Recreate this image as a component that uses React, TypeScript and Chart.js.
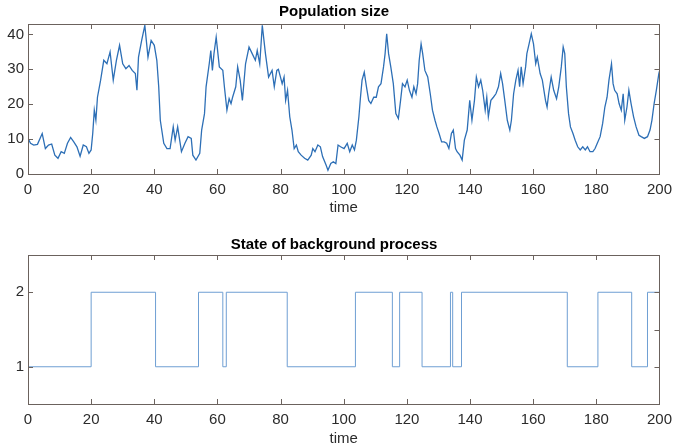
import { useEffect, useRef } from "react";
import { Chart, registerables } from "chart.js";
Chart.register(...registerables);

// ---- Data ----
const popTime = [
  0, 0.8, 1.8, 3, 4.5, 5.5, 6.5, 7.5, 8.5, 9.5, 10.5, 11.5, 12.5, 13.5, 14.5, 15.5, 16.5, 17.5, 18.5, 19.3,
  20, 20.5, 21, 21.5, 22, 23, 24, 25, 26, 27, 28, 29, 30, 31, 32, 33, 34, 34.5, 35, 36, 37, 38, 39, 40,
  40.8, 41.4, 41.9, 43, 44, 45, 46, 46.6, 47.4, 48.6, 49.7, 50.7, 51.7, 52.2, 53.2, 54.4, 55, 55.9, 56.4,
  57.4, 57.9, 58.4, 58.9, 59.6, 60.6, 61.7, 62.2, 63, 63.7, 64.3, 64.8, 65.8, 66.4, 67.2, 67.9, 68.9, 70,
  71, 72, 72.6, 73.4, 74.2, 75.2, 76.2, 77.3, 78, 78.8, 79.3, 79.9,
  80.5, 81.1, 81.6, 82.2, 82.9, 83.6, 84.3, 85, 85.6, 86.5, 87.6, 88.6, 89.7, 90.2, 90.9, 91.8, 92.6, 93.3,
  94.4, 95, 95.9, 96.7, 97.5, 98.2, 99, 100.1, 101.1, 101.9, 102.7, 103.4, 104, 104.8, 105.3, 105.8, 106.5,
  107.2, 107.9, 108.6, 109.5, 110.3, 111, 111.8, 112.6, 113.1, 113.6, 114.2, 114.9, 115.7, 116.5, 117.3,
  118, 118.6, 119.4, 120.1,
  120.8, 121.6, 122.2, 122.9, 123.4, 123.9, 124.5, 125, 125.7, 126.6, 127.4, 128.1, 128.9, 129.5, 130.2,
  131, 131.8, 132.6, 133.3, 134.1, 134.7, 135.4, 135.9, 136.8, 137.5, 138.2, 139.1, 139.9, 140.6, 141.4,
  142, 142.7, 143.4, 144, 144.8, 145.3, 145.8, 146.6, 147.4, 148.2, 149, 149.7, 150.3, 151, 151.8, 152.6,
  153.1, 153.8, 154.5, 155.2, 155.7, 156.2, 156.8, 157.6, 158, 158.7, 159.4, 160.1,
  160.8, 161.3, 162.2, 162.9, 163.4, 163.9, 164.4, 164.9, 165.7, 166.5, 167.4, 168.1, 168.9, 169.5, 170,
  170.5, 171.2, 171.8, 172.6, 173.3, 174.1, 174.9, 175.7, 176.5, 177.2, 178, 178.9, 179.6, 180.3, 181.2,
  182, 182.7, 183.4, 184, 184.8, 185.3, 185.8, 186.6, 187.2, 187.9, 188.5, 189, 189.7, 190.3, 191, 191.8,
  192.6, 193.5, 194.2, 195.2, 196.2, 197, 197.6, 198.3, 199, 199.8, 200,
];
const popSize = [
  10.2, 8.8, 8.3, 8.5, 11.6, 7.3, 8.3, 8.6, 5.4, 4.5, 6.4, 5.9, 8.8, 10.5, 9.2, 7.8, 5.1, 8.3, 7.8, 5.9,
  6.9, 11.6, 18.3, 15.4, 22, 26.9, 32.6, 31.6, 35, 26.9, 32.6, 36.9, 31.6, 30.2, 31.1, 29.7, 28.8, 24, 33.5, 38.3, 42.6, 33.5, 38.3, 36.9,
  32.6, 25, 15.4, 8.8, 7.3, 7.3, 13.5, 9.7, 13.5, 6.4, 8.8, 10.7, 10.2, 5.4, 4, 5.9, 12.6, 17.3, 25,
  31.6, 35.4, 29.7, 34.5, 39.2, 30.7, 29.7, 25, 18.3, 21.6, 20.2, 22, 25, 30.7, 26.9, 21.1, 31.6, 36.4,
  34.5, 32.6, 35.4, 31.6, 42.6, 34.5, 27.8, 29.7, 25, 29.7, 30, 28,
  25.9, 27.8, 21.1, 24, 16.4, 12.6, 7.3, 8.3, 6.4, 5.4, 4.5, 4, 5.4, 7.3, 6.4, 8.3, 7.8, 5,
  2.6, 1.1, 3, 3.5, 3, 8.3, 7.8, 7.3, 8.8, 6.4, 8.3, 6.9, 9.7, 16.4, 22, 26.9, 29.2,
  25, 21.1, 20.2, 22, 22, 25, 25.9, 30.7, 34.5, 40.2, 34.5, 30.7, 25.9, 17.3, 15.9,
  21.1, 25.9, 25, 26.9,
  24, 22, 25, 23, 25.9, 32.6, 37.3, 34.5, 29.7, 27.8, 23, 18.3, 15.4, 13.5, 11.6,
  9.2, 9.2, 8.8, 7.3, 11.6, 12.6, 7.3, 6.4, 5.4, 4, 9.7, 12.6, 21.1, 15.4, 21.1,
  27.8, 25, 26.9, 24, 18.3, 22, 16.4, 21.1, 22, 23, 25, 28.8, 25.9, 21.1, 15.4, 12.6,
  15.4, 23, 26.9, 29.7, 25, 30.7, 25.9, 30.7, 34.5, 37.3, 40.2, 37.3,
  31.6, 33.5, 28.8, 26.9, 24, 21.1, 19.2, 23, 27.8, 24, 21.6, 25, 30.7, 36.4, 34.5,
  25, 17.3, 13.5, 11.6, 9.7, 7.8, 6.9, 7.8, 6.9, 7.8, 6.4, 6.4, 7.3, 8.8, 10.7,
  14.5, 19.2, 22, 26.9, 31.6, 25.9, 24, 23, 20.2, 18.3, 23, 15.4, 19.2, 24, 20.2, 16.4,
  13.5, 11.1, 10.7, 10.2, 10.7, 12.6, 15.4, 20.2, 24, 28.8, 29.5,
];

const stateTime = [0, 20, 40.4, 54, 61.7, 62.8, 82.1, 103.7, 115.4, 117.7, 124.8, 133.8, 134.5, 137.3, 170.8, 180.5, 191.2, 196.2, 200];
const stateValue = [1, 2, 1, 2, 1, 2, 1, 2, 1, 2, 1, 2, 1, 2, 1, 2, 1, 2, 2];

const xTickValues = [0, 20, 40, 60, 80, 100, 120, 140, 160, 180, 200];
const popYTicks = [0, 10, 20, 30, 40];
const stateYTicks = [1, 2];
const stateRightTicks = [1, 1.5, 2];

const popTitle = "Population size";
const stateTitle = "State of background process";
const xTitle = "time";

const FONT = "'Liberation Sans', Arial, Helvetica, sans-serif";
const TEXT = "#2b2b2b";
const AXIS = "#6b625d";

const boxTicksPlugin = {
  id: "boxTicks",
  afterDatasetsDraw(chart: any, _args: any, opts: any) {
    const { ctx, chartArea: a, scales } = chart;
    const xs = scales.x;
    const ys = scales.y;
    const L = 5;
    ctx.save();
    ctx.strokeStyle = AXIS;
    ctx.lineWidth = 1;
    ctx.beginPath();
    for (const v of opts.xTicks || []) {
      const px = Math.round(xs.getPixelForValue(v)) + 0.5;
      ctx.moveTo(px, a.bottom);
      ctx.lineTo(px, a.bottom - L);
      ctx.moveTo(px, a.top);
      ctx.lineTo(px, a.top + L);
    }
    for (const v of opts.yLeft || []) {
      const py = Math.round(ys.getPixelForValue(v)) + 0.5;
      ctx.moveTo(a.left, py);
      ctx.lineTo(a.left + L, py);
    }
    for (const v of opts.yRight || []) {
      const py = Math.round(ys.getPixelForValue(v)) + 0.5;
      ctx.moveTo(a.right, py);
      ctx.lineTo(a.right - L, py);
    }
    ctx.stroke();
    ctx.strokeRect(
      Math.round(a.left) + 0.5,
      Math.round(a.top) + 0.5,
      Math.round(a.right - a.left),
      Math.round(a.bottom - a.top)
    );
    ctx.restore();
  },
};

function makeOptions(cfg: {
  title: string;
  titlePad: { top: number; bottom: number };
  yMin: number;
  yMax: number;
  yTicks: number[];
  yRight: number[];
  xHeight: number;
  xTitlePadBottom: number;
}) {
  return {
    responsive: false,
    animation: false as const,
    layout: { padding: { left: 0, right: 11, top: 0, bottom: 0 } },
    plugins: {
      legend: { display: false },
      tooltip: { enabled: false },
      title: {
        display: true,
        text: cfg.title,
        color: "#000",
        font: { family: FONT, size: 15, weight: "bold" as const, lineHeight: 1.2 },
        padding: cfg.titlePad,
      },
      boxTicks: { xTicks: xTickValues, yLeft: cfg.yTicks, yRight: cfg.yRight },
    },
    scales: {
      x: {
        type: "linear" as const,
        min: 0,
        max: 200,
        afterBuildTicks: (s: any) => {
          s.ticks = xTickValues.map((v) => ({ value: v }));
        },
        afterFit: (s: any) => {
          s.height = cfg.xHeight;
        },
        grid: { display: false, drawTicks: false },
        border: { display: false },
        ticks: {
          padding: 7,
          color: TEXT,
          font: { family: FONT, size: 15 },
          maxRotation: 0,
          autoSkip: false,
        },
        title: {
          display: true,
          text: xTitle,
          color: TEXT,
          font: { family: FONT, size: 15, lineHeight: 1.2 },
          padding: { top: 0, bottom: cfg.xTitlePadBottom },
        },
      },
      y: {
        type: "linear" as const,
        min: cfg.yMin,
        max: cfg.yMax,
        afterBuildTicks: (s: any) => {
          s.ticks = cfg.yTicks.map((v) => ({ value: v }));
        },
        afterFit: (s: any) => {
          s.width = 28;
        },
        grid: { display: false, drawTicks: false },
        border: { display: false },
        ticks: { padding: 4, color: TEXT, font: { family: FONT, size: 15 } },
      },
    },
  };
}

export default function App() {
  const topRef = useRef<HTMLCanvasElement | null>(null);
  const botRef = useRef<HTMLCanvasElement | null>(null);

  useEffect(() => {
    if (!topRef.current || !botRef.current) return;
    const top = new Chart(topRef.current, {
      type: "line",
      data: {
        datasets: [
          {
            data: popTime.map((t, i) => ({ x: t, y: popSize[i] })),
            borderColor: "#2d6fb6",
            borderWidth: 1.3,
            pointRadius: 0,
            tension: 0,
            fill: false,
          },
        ],
      },
      options: makeOptions({
        title: popTitle,
        titlePad: { top: 3, bottom: 3 },
        yMin: 0,
        yMax: 43,
        yTicks: popYTicks,
        yRight: [10, 20, 30, 40],
        xHeight: 50,
        xTitlePadBottom: 7,
      }) as any,
      plugins: [boxTicksPlugin],
    });
    const bot = new Chart(botRef.current, {
      type: "line",
      data: {
        datasets: [
          {
            data: stateTime.map((t, i) => ({ x: t, y: stateValue[i] })),
            borderColor: "#6f9fd3",
            borderWidth: 1,
            pointRadius: 0,
            stepped: "before",
            fill: false,
          },
        ],
      },
      options: makeOptions({
        title: stateTitle,
        titlePad: { top: 12, bottom: 1 },
        yMin: 0.5,
        yMax: 2.5,
        yTicks: stateYTicks,
        yRight: stateRightTicks,
        xHeight: 44,
        xTitlePadBottom: 0,
      }) as any,
      plugins: [boxTicksPlugin],
    });
    return () => {
      top.destroy();
      bot.destroy();
    };
  }, []);

  return (
    <div style={{ position: "absolute", left: 0, top: 0, width: 679, height: 448, background: "#fff" }}>
      <canvas ref={topRef} width={679} height={224} style={{ position: "absolute", left: 0, top: 0 }} />
      <canvas ref={botRef} width={679} height={224} style={{ position: "absolute", left: 0, top: 224 }} />
    </div>
  );
}
